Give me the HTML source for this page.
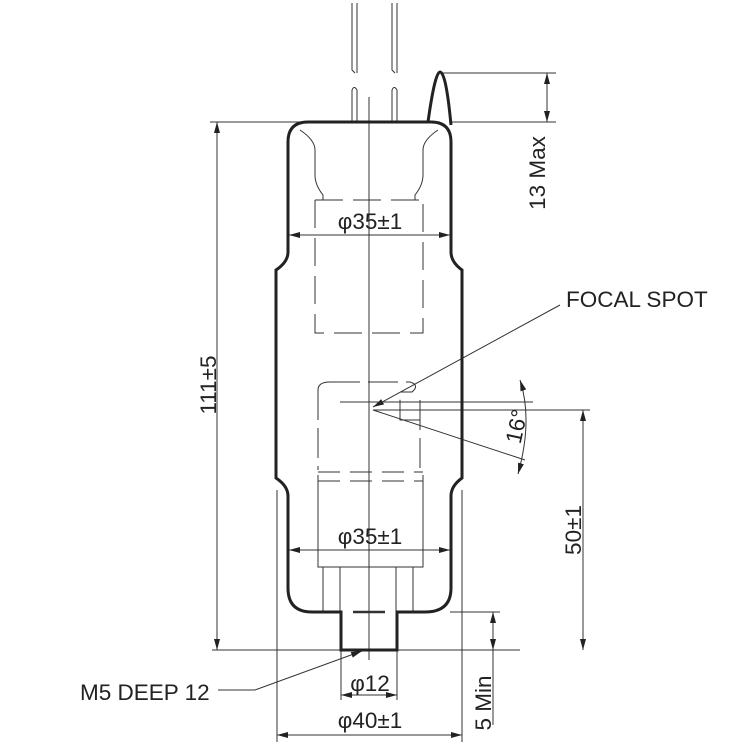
<!DOCTYPE html>
<html><head><style>html,body{margin:0;padding:0;background:#fff}svg{display:block}</style></head><body>
<svg width="750" height="750" viewBox="0 0 750 750" xmlns="http://www.w3.org/2000/svg" font-family="Liberation Sans, sans-serif">
<defs>
<marker id="a" markerWidth="12" markerHeight="8" refX="11" refY="4" orient="auto-start-reverse" markerUnits="userSpaceOnUse"><path d="M0,1 L11,4 L0,7 Z" fill="#222"/></marker>
</defs>
<g stroke="#333" stroke-width="1" fill="none">
<path d="M352,3V70L355,73M357,3V73M392,3V70L395,73M397,3V73"/>
<path d="M352,122V90Q354,85 357,90V122M392,122V90Q394,85 397,90V122"/>
<path d="M369,97V660"/>
<path d="M300,130Q315,140 315,150V175Q315,185 323,195V200M438,130Q423,140 423,150V175Q423,185 415,195V200"/>
<path d="M315,200H423M315,200V333H423V200" stroke-dasharray="28,10"/>
<path d="M330,382H410Q420,385 412,392H400V402M318,390V470M420,400V470" stroke-dasharray="30,8"/>
<path d="M330,382Q318,382 318,390"/>
<path d="M400,402V420H420"/>
<path d="M318,472H423M318,481H423" stroke-dasharray="22,10"/>
<path d="M318,475V567H423V475"/>
<path d="M323,567V612M340,567V612M396,567V612M413,567V612"/>
<path d="M353,612H385" stroke-width="2.5"/>
<path d="M210,122H440M212,650H520"/>
<path d="M217,122V650" marker-start="url(#a)" marker-end="url(#a)"/>
<path d="M440,73H556M451,122H556"/>
<path d="M547,73V122" marker-start="url(#a)" marker-end="url(#a)"/>
<path d="M289,235H450" marker-start="url(#a)" marker-end="url(#a)"/>
<path d="M289,550H450" marker-start="url(#a)" marker-end="url(#a)"/>
<path d="M560,305L373,407" marker-end="url(#a)"/>
<path d="M340,402H533M373,410H590M373,410L525,460"/>
<path d="M520,380Q533,420 518,474" marker-start="url(#a)" marker-end="url(#a)"/>
<path d="M583,410V650" marker-start="url(#a)" marker-end="url(#a)"/>
<path d="M450,612H500"/>
<path d="M493,612V650" marker-start="url(#a)" marker-end="url(#a)"/>
<path d="M493,650V725"/>
<path d="M341,650V700M397,650V700M277,490V742M462,490V742"/>
<path d="M341,695H397" marker-start="url(#a)" marker-end="url(#a)"/>
<path d="M277,735H462" marker-start="url(#a)" marker-end="url(#a)"/>
<path d="M218,690H255L362,651" marker-end="url(#a)"/>
</g>
<path d="M341,612V650H397V612H425Q451,612 451,588V496Q451,486 462,478V270Q451,262 451,252V142Q451,122 431,122H308Q288,122 288,142V252Q288,262 276,270V478Q288,486 288,496V588Q288,612 312,612Z" fill="none" stroke="#222" stroke-width="3"/>
<path d="M428,122Q435,72 440,72Q446,72 451,125" fill="none" stroke="#222" stroke-width="3"/>
<g fill="#222" font-size="22.5">
<text x="370" y="229" text-anchor="middle">φ35±1</text>
<text x="370" y="544" text-anchor="middle">φ35±1</text>
<text x="566" y="307">FOCAL SPOT</text>
<text x="370" y="691" text-anchor="middle">φ12</text>
<text x="370" y="728" text-anchor="middle">φ40±1</text>
<text x="80" y="700">M5 DEEP 12</text>
<text transform="translate(216,385) rotate(-90)" text-anchor="middle">111±5</text>
<text transform="translate(545,173) rotate(-90)" text-anchor="middle">13 Max</text>
<text transform="translate(581,530) rotate(-90)" text-anchor="middle">50±1</text>
<text transform="translate(491,703) rotate(-90)" text-anchor="middle">5 Min</text>
<text transform="translate(524,428) rotate(-78)" text-anchor="middle">16°</text>
</g>
</svg>
</body></html>
